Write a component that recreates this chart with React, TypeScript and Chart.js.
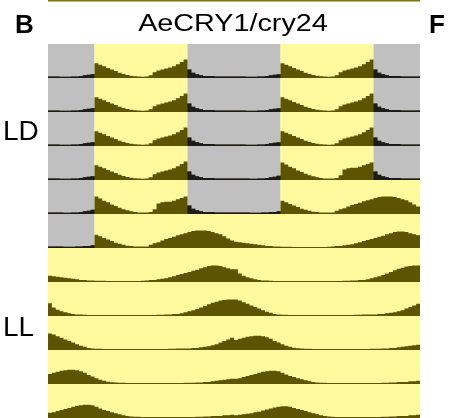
import React, { useEffect, useRef } from 'react';
import { Chart, registerables } from 'chart.js';
Chart.register(...registerables);

// ---- data ----
const TITLE = 'AeCRY1/cry24';
const PANEL_LEFT = 'B';
const PANEL_RIGHT = 'F';
const PHASE_LABELS = ['LD', 'LL'];
const BIN_HOURS = 0.5; // 48 bins per day
const ROW_MAX = 32; // activity units per actogram row
// light schedule per day (hours)
const LIGHTS_ON = [6, 6, 6, 6, 6, 6, 0, 0, 0, 0, 0, 0];
const LIGHTS_OFF = [18, 18, 18, 18, 18, 24, 24, 24, 24, 24, 24, 24];

const DAY_LD = [
  1.5, 1.5, 1.5, 1.2, 1.2, 1.2, 1.5, 1.5, 2, 2.5, 3, 3.5,
  14, 12.5, 11, 9.5, 8, 6.5, 5, 3.8, 2.8, 2.2, 1.6, 1.3,
  1.2, 1.5, 2.5, 5.5, 7, 8, 9, 10, 11, 13, 15, 17.5,
  8, 5, 3.5, 2.5, 2, 2, 1.8, 1.5, 1.5, 1.5, 1.5, 1.5,
];
const DAY_5 = [
  1.5, 1.5, 1.5, 1.5, 1.2, 1.2, 1.5, 1.5, 2, 2.5, 3, 4,
  16.5, 14.5, 12.5, 11, 9, 7.5, 6, 4.5, 3.5, 2.5, 1.8, 1.4,
  1.3, 1.3, 2, 4.5, 10, 11, 11.5, 11.5, 12.5, 14, 15, 16.5,
  8, 5, 3.5, 2.5, 2, 2, 1.8, 1.5, 1.5, 1.5, 1.5, 1.5,
];
const DAY_6 = [
  1.5, 1.5, 1.5, 1.5, 1.2, 1.2, 1.2, 1.5, 1.5, 2, 2, 2.5,
  12.5, 11, 9.5, 8, 6.5, 5, 4, 3, 2.2, 1.8, 1.5, 1.3,
  1.3, 1.5, 3, 4.5, 5.5, 7, 8.5, 9.5, 10.5, 12, 13, 14,
  15, 16, 16.5, 16.5, 16.5, 16, 15, 14, 13, 11, 9, 7,
];
const DAY_7 = [
  6, 5.5, 5, 4.5, 4, 3.5, 3, 2.5, 2, 1.8, 1.5, 1.3,
  1.2, 1.2, 1.2, 1, 1, 1, 1, 1, 1, 1, 1, 1,
  1.2, 1.5, 1.8, 2, 2.5, 3, 3.5, 4.5, 5.5, 6.5, 7.5, 8.5,
  9.5, 10.5, 11.5, 13, 14, 15, 15.5, 15.5, 15, 14, 13, 12,
];
const DAY_8 = [
  12, 8, 6, 4.5, 3.5, 2.7, 2, 1.5, 1.3, 1.2, 1, 1,
  1, 1, 1, 1, 1, 1, 1, 1, 1, 1, 1, 1,
  1, 1, 1, 1, 1.2, 1.2, 1.5, 1.5, 2, 2, 2.5, 3.5,
  4.5, 5.5, 6.5, 8, 9.5, 11, 12.5, 13.5, 14.5, 15, 15.5, 15.5,
];
const DAY_9 = [
  15.5, 14.5, 13, 11.5, 10, 8.5, 7, 5.5, 4, 3, 2, 1.5,
  1.2, 1.1, 1, 1, 1, 1, 1, 1, 1, 1, 1, 1,
  1, 1, 1, 1, 1, 1, 1, 1.2, 1.2, 1.3, 1.5, 1.5,
  1.5, 1.8, 2, 2.5, 3, 3.5, 4.5, 5.5, 7, 8.5, 10, 11.5,
];
const DAY_10 = [
  9.5, 10.5, 11.5, 12.5, 13, 13.5, 13.5, 13, 12, 10.5, 8.5, 7,
  5.5, 4, 3, 2.2, 1.7, 1.4, 1.2, 1.1, 1, 1, 1, 1,
  1, 1, 1, 1, 1, 1, 1, 1, 1, 1, 1, 1.2,
  1.2, 1.2, 1.5, 1.5, 2, 2, 2.5, 3, 3.5, 4, 4.5, 5,
];
const DAY_11 = [
  5, 5.5, 6.5, 7.5, 8.5, 9.5, 10.5, 11.5, 12, 12.5, 12.5, 12,
  10.5, 9, 7.5, 6.5, 5.5, 4.5, 3.5, 2.5, 2, 1.5, 1.2, 1.1,
  1, 1, 1, 1, 1, 1, 1, 1, 1, 1, 1, 1,
  1, 1, 1.2, 1.2, 1.5, 1.5, 1.8, 2, 2, 2.5, 2.5, 3,
];
const DAY_12 = [
  2.5, 3, 3.5, 4, 4.5, 5.5, 6, 7, 8, 9, 10, 10.5,
  11, 11, 10.5, 9.5, 8.5, 7.5, 6.5, 5.5, 4.5, 3.5, 2.5, 2,
  1.5, 1.2, 1, 1, 1, 1, 1, 1, 1, 1, 1, 1,
  1, 1, 1.2, 1.2, 1.5, 1.5, 1.8, 2, 2, 2.5, 2.5, 3,
];
const ACTIVITY = [DAY_LD, DAY_LD, DAY_LD, DAY_LD, DAY_5, DAY_6, DAY_7, DAY_8, DAY_9, DAY_10, DAY_11, DAY_12];

// ---- styles ----
const COLOR_LIGHT = '#fffa9e';
const COLOR_DARK = '#c0c0c0';
const COLOR_ACT_LIGHT = '#5c5400';
const COLOR_ACT_DARK = '#1c1c1c';
const COLOR_TOPLINE = '#827400';

const NROWS = ACTIVITY.length - 1;

function isDark(day: number, hour: number) {
  return hour < LIGHTS_ON[day] || hour >= LIGHTS_OFF[day];
}

function buildRow(r: number, darkOnly: boolean) {
  const base = (NROWS - 1 - r) * ROW_MAX;
  const pts: { x: number; y: number }[] = [];
  for (let h = 0; h < 2; h++) {
    const d = r + h;
    const vals = ACTIVITY[d];
    for (let k = 0; k < vals.length; k++) {
      const hour = k * BIN_HOURS;
      let v = vals[k];
      if (darkOnly && !isDark(d, hour)) v = 0;
      pts.push({ x: h * 24 + hour, y: base + v });
    }
  }
  pts.push({ x: 48, y: pts[pts.length - 1].y });
  return { pts, base };
}

const backgroundPlugin = {
  id: 'lightSchedule',
  beforeDatasetsDraw(chart: any) {
    const { ctx, scales, chartArea } = chart;
    const xs = scales.x;
    const ys = scales.y;
    ctx.save();
    for (let r = 0; r < NROWS; r++) {
      const base = (NROWS - 1 - r) * ROW_MAX;
      const yTop = ys.getPixelForValue(base + ROW_MAX);
      const yBot = ys.getPixelForValue(base);
      for (let h = 0; h < 2; h++) {
        const d = r + h;
        const off = h * 24;
        const segs: [number, number, string][] = [
          [0, LIGHTS_ON[d], COLOR_DARK],
          [LIGHTS_ON[d], LIGHTS_OFF[d], COLOR_LIGHT],
          [LIGHTS_OFF[d], 24, COLOR_DARK],
        ];
        for (const [a, b, c] of segs) {
          if (b <= a) continue;
          const x0 = xs.getPixelForValue(off + a);
          const x1 = xs.getPixelForValue(off + b);
          ctx.fillStyle = c;
          ctx.fillRect(x0, yTop, x1 - x0, yBot - yTop);
        }
      }
    }
    ctx.fillStyle = COLOR_TOPLINE;
    ctx.fillRect(chartArea.left, 0, chartArea.right - chartArea.left, 1.5);
    ctx.restore();
  },
};

export default function App() {
  const ref = useRef<HTMLCanvasElement | null>(null);
  useEffect(() => {
    if (!ref.current) return;
    const datasets: any[] = [];
    for (let r = 0; r < NROWS; r++) {
      const all = buildRow(r, false);
      const dark = buildRow(r, true);
      datasets.push({
        data: all.pts,
        stepped: true,
        fill: { value: all.base },
        backgroundColor: COLOR_ACT_LIGHT,
        borderWidth: 0,
        pointRadius: 0,
        order: 2,
      });
      datasets.push({
        data: dark.pts,
        stepped: true,
        fill: { value: dark.base },
        backgroundColor: COLOR_ACT_DARK,
        borderWidth: 0,
        pointRadius: 0,
        order: 1,
      });
    }
    const chart = new Chart(ref.current, {
      type: 'line',
      data: { datasets },
      options: {
        animation: false,
        responsive: false,
        devicePixelRatio: 1,
        layout: { padding: { left: 48, right: 33, top: 44, bottom: 0 } },
        plugins: { legend: { display: false }, tooltip: { enabled: false }, title: { display: false } },
        scales: {
          x: { type: 'linear', min: 0, max: 48, display: false },
          y: { type: 'linear', min: 0, max: NROWS * ROW_MAX, display: false },
        },
      },
      plugins: [backgroundPlugin],
    });
    return () => chart.destroy();
  }, []);

  const font = '"Liberation Sans", Arial, sans-serif';
  return (
    <div style={{ position: 'absolute', left: 0, top: 0, width: 453, height: 418, background: '#fff', overflow: 'hidden' }}>
      <canvas ref={ref} width={453} height={418} style={{ position: 'absolute', left: 0, top: 0 }} />
      <div style={{ position: 'absolute', left: 15, top: 11, font: `bold 26px ${font}`, lineHeight: '26px' }}>{PANEL_LEFT}</div>
      <div style={{ position: 'absolute', left: 429, top: 11, font: `bold 26px ${font}`, lineHeight: '26px' }}>{PANEL_RIGHT}</div>
      <div style={{ position: 'absolute', left: 133, width: 200, top: 12, textAlign: 'center', font: `23px ${font}`, lineHeight: '23px', transform: 'scaleX(1.25)', whiteSpace: 'nowrap' }}>{TITLE}</div>
      <div style={{ position: 'absolute', left: 3, top: 117, font: `28px ${font}`, lineHeight: '28px' }}>{PHASE_LABELS[0]}</div>
      <div style={{ position: 'absolute', left: 3, top: 313, font: `28px ${font}`, lineHeight: '28px' }}>{PHASE_LABELS[1]}</div>
    </div>
  );
}
